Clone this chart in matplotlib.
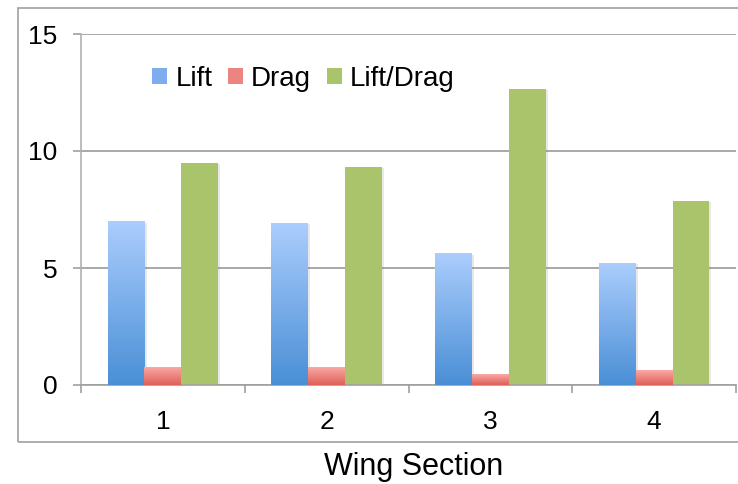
import numpy as np
import matplotlib
matplotlib.use('Agg')
import matplotlib.pyplot as plt
from matplotlib.colors import LinearSegmentedColormap
from matplotlib.patches import Rectangle, Patch
import matplotlib.patheffects as pe

plt.rcParams['font.family'] = ['Liberation Sans', 'DejaVu Sans']

sections = ['1', '2', '3', '4']
lift = [7.0, 6.92, 5.6, 5.21]
drag = [0.73, 0.73, 0.43, 0.64]
lift_drag = [9.49, 9.32, 12.65, 7.86]

series = [
    ('Lift', lift, '#4a8fd6', '#abcdfd'),
    ('Drag', drag, '#df5f58', '#f9a9a5'),
    ('Lift/Drag', lift_drag, '#a9c46a', '#a9c46a'),
]

fig = plt.figure(figsize=(7.38, 4.84), dpi=100)
ax = fig.add_axes([81 / 738, 1 - 385 / 484, 655 / 738, 351 / 484])

# outer chart frame
fig.patches.append(Rectangle((18 / 738, 1 - 442 / 484), 1.0, 434 / 484,
                             transform=fig.transFigure, fill=False,
                             edgecolor='#a0a0a0', linewidth=1.2, zorder=0))

x = np.arange(1, len(sections) + 1)
width = 0.225
grad = np.linspace(0, 1, 256).reshape(-1, 1)
handles = []

for i, (name, vals, c_bot, c_top) in enumerate(series):
    pos = x + (i - 1) * width
    bars = ax.bar(pos, vals, width, color=c_bot, zorder=2,
                  path_effects=[pe.SimplePatchShadow(offset=(1.5, -1), alpha=0.18,
                                                     shadow_rgbFace='gray'),
                                pe.Normal()])
    cmap = LinearSegmentedColormap.from_list(name, [c_bot, c_top])
    if c_bot != c_top:
        for b in bars:
            x0, w, h = b.get_x(), b.get_width(), b.get_height()
            ax.imshow(grad, extent=[x0, x0 + w, 0, h], origin='lower',
                      aspect='auto', cmap=cmap, zorder=3, interpolation='bilinear')
    handles.append(Patch(facecolor=cmap(0.5), edgecolor='none', label=name))

ax.set_xlim(0.5, len(sections) + 0.5)
ax.set_ylim(0, 15)
ax.set_yticks([0, 5, 10, 15])
ax.set_xticks(x)
ax.set_xticklabels(sections)
ax.set_xticks(np.arange(0.5, len(sections) + 1, 1), minor=True)

ax.grid(True, axis='y', color='#999999', linewidth=1.2, zorder=1)
ax.set_axisbelow(True)
for s in ['top', 'right']:
    ax.spines[s].set_visible(False)
ax.spines['left'].set_color('#b0b0b0')
ax.spines['bottom'].set_color('#a0a0a0')
ax.spines['left'].set_linewidth(1.2)
ax.spines['bottom'].set_linewidth(1.2)

ax.tick_params(axis='y', length=6, width=1.2, color='#a0a0a0', pad=11, labelsize=19)
ax.tick_params(axis='x', which='major', length=0, pad=18, labelsize=19)
ax.tick_params(axis='x', which='minor', length=6, width=1.2, color='#a0a0a0')

ax.legend(handles=handles, loc='center left', bbox_to_anchor=(0.108, 0.872),
          ncol=3, frameon=False, fontsize=20, handlelength=0.55, handleheight=0.55,
          handletextpad=0.3, columnspacing=0.55, borderpad=0, borderaxespad=0)

fig.text(414 / 738, 1 - 467 / 484, 'Wing Section', ha='center', va='center', fontsize=22)

fig.savefig('out.png', dpi=100)
plt.close(fig)
